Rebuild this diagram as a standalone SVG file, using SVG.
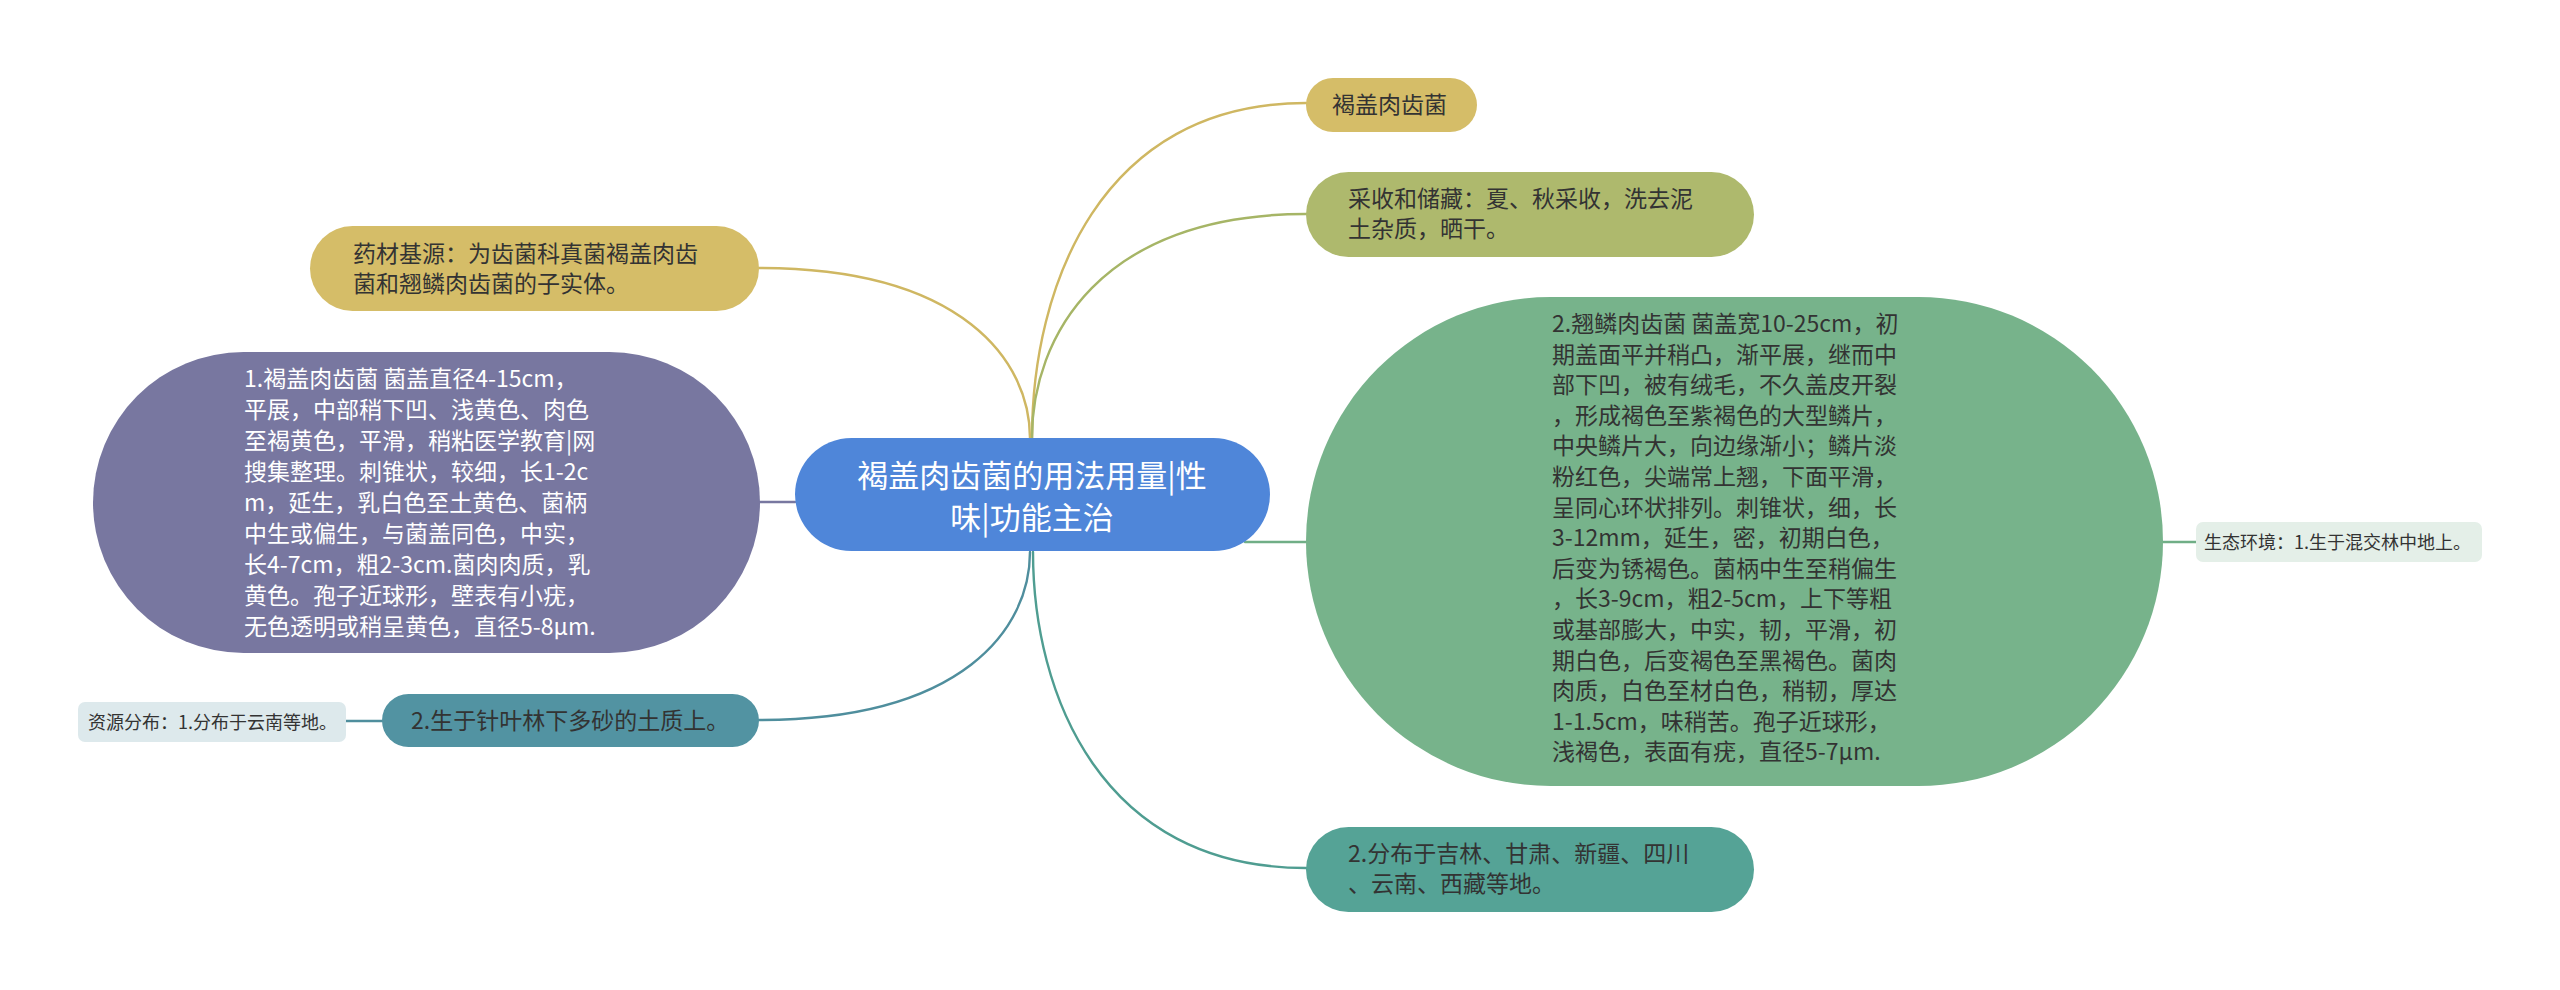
<svg xmlns="http://www.w3.org/2000/svg" width="2560" height="990" viewBox="0 0 2560 990">
<style>
text{font-family:"Noto Sans CJK SC","Noto Sans",sans-serif;}
.t{font-size:23px;fill:#333333;}
.w{font-size:23px;fill:#ffffff;}
.s{font-size:18px;fill:#333333;}
.c{font-size:31px;fill:#ffffff;text-anchor:middle;}
.ln{fill:none;stroke-width:2.4;stroke-linecap:round;}
</style>
<rect width="2560" height="990" fill="#ffffff"/>
<g id="connectors">
<path class="ln" stroke="#cfb762" d="M1032,438 C1032,287 1100,103 1306,103"/>
<path class="ln" stroke="#a6b566" d="M1032,438 C1032,337 1100,214 1306,214"/>
<path class="ln" stroke="#cfb762" d="M1030,438 C1030,362 964,268 759,268"/>
<path class="ln" stroke="#7877a0" d="M760,502 L795,502"/>
<path class="ln" stroke="#70ae86" d="M1245,542 L1306,542"/>
<path class="ln" stroke="#70ae86" d="M2163,542 L2196,542"/>
<path class="ln" stroke="#4f8e9d" d="M1030,552 C1030,628 964,720 759,720"/>
<path class="ln" stroke="#4f8e9d" d="M382,721 L346,721"/>
<path class="ln" stroke="#4f9d91" d="M1033,552 C1033,694 1101,868 1306,868"/>
</g>
<g id="center">
<rect x="795" y="438" width="475" height="113" rx="56.5" fill="#4f86d9"/>
<text class="c" x="1032" y="487">褐盖肉齿菌的用法用量|性</text>
<text class="c" x="1032" y="529">味|功能主治</text>
</g>
<g id="n1">
<rect x="1306" y="78" width="171" height="54" rx="27" fill="#d5bd68"/>
<text class="t" x="1332" y="113">褐盖肉齿菌</text>
</g>
<g id="n2">
<rect x="1306" y="172" width="448" height="85" rx="42.5" fill="#aeb96d"/>
<text class="t" x="1348" y="207">采收和储藏：夏、秋采收，洗去泥</text>
<text class="t" x="1348" y="237">土杂质，晒干。</text>
</g>
<g id="n3">
<rect x="310" y="226" width="449" height="85" rx="42.5" fill="#d5bd68"/>
<text class="t" x="353" y="262">药材基源：为齿菌科真菌褐盖肉齿</text>
<text class="t" x="353" y="292">菌和翘鳞肉齿菌的子实体。</text>
</g>
<g id="n4">
<rect x="93" y="352" width="667" height="301" rx="150.5" fill="#7877a0"/>
<text class="w" x="244" y="387">1.褐盖肉齿菌 菌盖直径4-15cm，</text>
<text class="w" x="244" y="418">平展，中部稍下凹、浅黄色、肉色</text>
<text class="w" x="244" y="449">至褐黄色，平滑，稍粘医学教育|网</text>
<text class="w" x="244" y="480">搜集整理。刺锥状，较细，长1-2c</text>
<text class="w" x="244" y="511">m，延生，乳白色至土黄色、菌柄</text>
<text class="w" x="244" y="542">中生或偏生，与菌盖同色，中实，</text>
<text class="w" x="244" y="573">长4-7cm，粗2-3cm.菌肉肉质，乳</text>
<text class="w" x="244" y="604">黄色。孢子近球形，壁表有小疣，</text>
<text class="w" x="244" y="635">无色透明或稍呈黄色，直径5-8μm.</text>
</g>
<g id="n5">
<rect x="1306" y="297" width="857" height="489" rx="244.5" fill="#77b38b"/>
<text class="t" x="1552" y="332">2.翘鳞肉齿菌 菌盖宽10-25cm，初</text>
<text class="t" x="1552" y="362.6">期盖面平并稍凸，渐平展，继而中</text>
<text class="t" x="1552" y="393.2">部下凹，被有绒毛，不久盖皮开裂</text>
<text class="t" x="1552" y="423.8">，形成褐色至紫褐色的大型鳞片，</text>
<text class="t" x="1552" y="454.4">中央鳞片大，向边缘渐小；鳞片淡</text>
<text class="t" x="1552" y="485">粉红色，尖端常上翘，下面平滑，</text>
<text class="t" x="1552" y="515.6">呈同心环状排列。刺锥状，细，长</text>
<text class="t" x="1552" y="546.2">3-12mm，延生，密，初期白色，</text>
<text class="t" x="1552" y="576.8">后变为锈褐色。菌柄中生至稍偏生</text>
<text class="t" x="1552" y="607.4">，长3-9cm，粗2-5cm，上下等粗</text>
<text class="t" x="1552" y="638">或基部膨大，中实，韧，平滑，初</text>
<text class="t" x="1552" y="668.6">期白色，后变褐色至黑褐色。菌肉</text>
<text class="t" x="1552" y="699.2">肉质，白色至材白色，稍韧，厚达</text>
<text class="t" x="1552" y="729.8">1-1.5cm，味稍苦。孢子近球形，</text>
<text class="t" x="1552" y="760.4">浅褐色，表面有疣，直径5-7μm.</text>
</g>
<g id="n6">
<rect x="2196" y="522" width="286" height="40" rx="7" fill="#e4efe8"/>
<text class="s" x="2204" y="548.5">生态环境：1.生于混交林中地上。</text>
</g>
<g id="n7">
<rect x="382" y="694" width="377" height="53" rx="26.5" fill="#5293a2"/>
<text class="t" x="411" y="729">2.生于针叶林下多砂的土质上。</text>
</g>
<g id="n8">
<rect x="78" y="702" width="268" height="40" rx="7" fill="#dde9ec"/>
<text class="s" x="88" y="728.5">资源分布：1.分布于云南等地。</text>
</g>
<g id="n9">
<rect x="1306" y="827" width="448" height="85" rx="42.5" fill="#55a396"/>
<text class="t" x="1348" y="862">2.分布于吉林、甘肃、新疆、四川</text>
<text class="t" x="1348" y="892">、云南、西藏等地。</text>
</g>
</svg>
